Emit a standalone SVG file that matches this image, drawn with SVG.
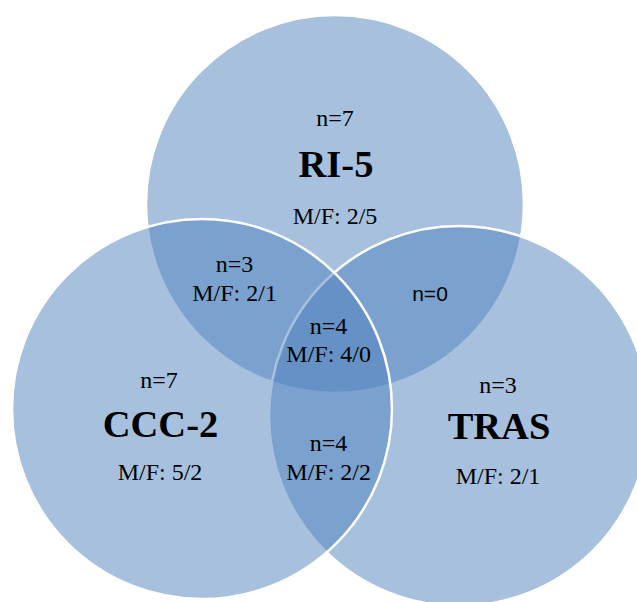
<svg xmlns="http://www.w3.org/2000/svg" width="637" height="602" viewBox="0 0 637 602">
  <style>
    .set { fill: #4F81BD; fill-opacity: 0.5; stroke: #FFFFFF; stroke-width: 2.5; }
    .t { font-family: 'Times New Roman', 'Liberation Serif', 'DejaVu Serif', serif; font-size: 24px; fill: #000; text-anchor: middle; }
    .b { font-family: 'Times New Roman', 'Liberation Serif', 'DejaVu Serif', serif; font-size: 38.5px; font-weight: bold; fill: #000; text-anchor: middle; }
    .s { font-family: 'Liberation Sans', Arial, sans-serif; font-size: 21px; fill: #000; text-anchor: middle; }
  </style>
  <rect width="637" height="602" fill="#FFFFFF"/>
  <g id="node-ri5">
    <circle class="set" cx="335" cy="204" r="189"/>
    <text class="t" x="335" y="126">n=7</text>
    <text class="b" x="336" y="177">RI-5</text>
    <text class="t" x="335" y="224">M/F: 2/5</text>
  </g>
  <g id="node-tras">
    <circle class="set" cx="459" cy="416" r="190"/>
    <text class="t" x="498" y="393">n=3</text>
    <text class="b" x="499" y="439">TRAS</text>
    <text class="t" x="498" y="484">M/F: 2/1</text>
  </g>
  <g id="node-ccc2">
    <circle class="set" cx="202" cy="409" r="190"/>
    <text class="t" x="159" y="388">n=7</text>
    <text class="b" x="160.5" y="437">CCC-2</text>
    <text class="t" x="160" y="480">M/F: 5/2</text>
  </g>
  <g id="overlap-ri5-ccc2">
    <text class="t" x="234.6" y="272">n=3</text>
    <text class="t" x="234.6" y="301">M/F: 2/1</text>
  </g>
  <g id="overlap-ri5-tras">
    <text class="s" x="430" y="301">n=0</text>
  </g>
  <g id="overlap-all">
    <text class="t" x="328.5" y="334">n=4</text>
    <text class="t" x="328.7" y="362">M/F: 4/0</text>
  </g>
  <g id="overlap-ccc2-tras">
    <text class="t" x="328.5" y="451">n=4</text>
    <text class="t" x="328.7" y="480">M/F: 2/2</text>
  </g>
  <g id="connectors"></g>
</svg>
